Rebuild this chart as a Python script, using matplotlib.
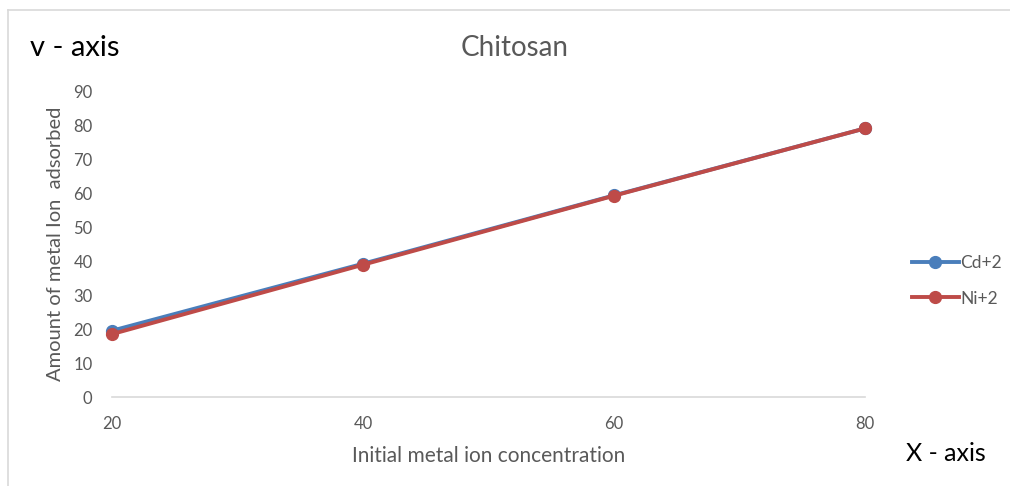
import matplotlib
matplotlib.use("Agg")
import matplotlib.pyplot as plt
from matplotlib.lines import Line2D

plt.rcParams['font.family'] = ['Lato', 'DejaVu Sans']

categories = ["20", "40", "60", "80"]
cd_values = [19.5, 39.2, 59.3, 79.0]
ni_values = [18.5, 38.9, 59.2, 79.0]
y_ticks = [0, 10, 20, 30, 40, 50, 60, 70, 80, 90]

W, H = 1010, 486
fig = plt.figure(figsize=(W / 100, H / 100), dpi=100)

# chart frame
frame_col = "#d9d9d9"
fig.add_artist(Line2D([8 / W, 8 / W], [0, 1 - 10 / H], color=frame_col, lw=1.2, transform=fig.transFigure))
fig.add_artist(Line2D([8 / W, 1], [1 - 10 / H, 1 - 10 / H], color=frame_col, lw=1.2, transform=fig.transFigure))

ax = fig.add_axes([112 / W, (H - 397) / H, (865 - 112) / W, (397 - 91) / H])
x = [float(c) for c in categories]

ax.plot(x, cd_values, color="#4a7ebb", lw=2.8, marker="o", ms=8.5, label="Cd+2", zorder=3, clip_on=False)
ax.plot(x, ni_values, color="#be4b48", lw=2.8, marker="o", ms=8.5, label="Ni+2", zorder=4, clip_on=False)

ax.set_xlim(20, 80)
ax.set_ylim(0, 90)
ax.set_xticks(x)
ax.set_xticklabels(categories)
ax.set_yticks(y_ticks)

for s in ["top", "right", "left"]:
    ax.spines[s].set_visible(False)
ax.spines["bottom"].set_color("#d9d9d9")
ax.spines["bottom"].set_linewidth(1.2)
ax.spines["bottom"].set_zorder(1)
ax.tick_params(axis="both", length=0, colors="#595959", labelsize=12)
ax.tick_params(axis="x", pad=14)
ax.tick_params(axis="y", pad=14)

ax.set_xlabel("Initial metal ion concentration", color="#595959", fontsize=15, labelpad=10)
ax.set_ylabel("Amount of metal Ion  adsorbed", color="#595959", fontsize=14.5, labelpad=7)

fig.text(515 / W, 1 - 48 / H, "Chitosan", ha="center", va="center", color="#595959", fontsize=20)
fig.text(30 / W, 1 - 48 / H, "v - axis", ha="left", va="center", color="black", fontsize=21)
fig.text(906 / W, 1 - 453 / H, "X - axis", ha="left", va="center", color="black", fontsize=18)

fig.legend(loc="center left", bbox_to_anchor=(896 / W, 1 - 281 / H), frameon=False,
           fontsize=12.5, labelcolor="#595959", handlelength=2.7, handletextpad=0.1,
           labelspacing=1.1)

fig.savefig("out.png", dpi=100)
